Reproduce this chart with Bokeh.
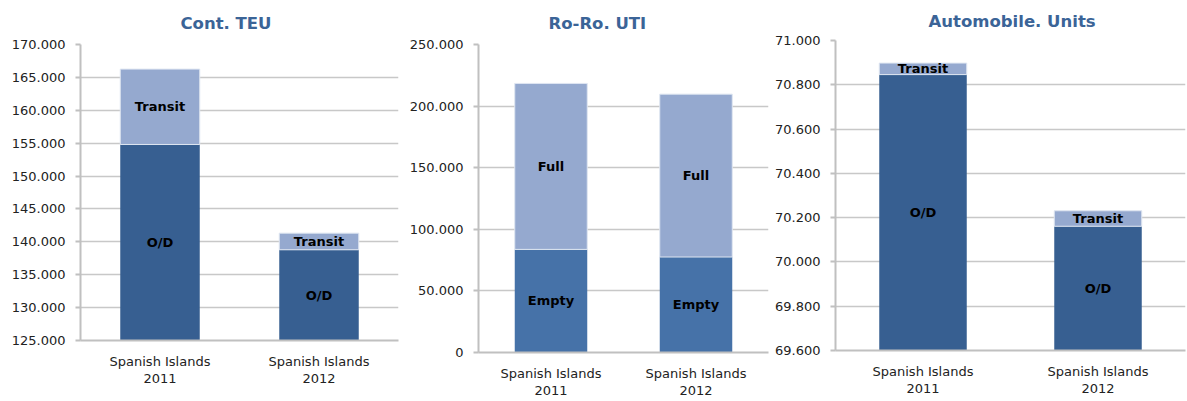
from bokeh.plotting import figure
from bokeh.layouts import row, column
from bokeh.models import FixedTicker, Title, ColumnDataSource, LabelSet
from bokeh.core.properties import value
from bokeh.embed import file_html
from bokeh.resources import INLINE

# ---------------- data ----------------
categories = ["Spanish Islands\n2011", "Spanish Islands\n2012"]

# Cont. TEU
teu_od = [154800, 138790]
teu_transit = [11460, 2530]
teu_ticks = [125000, 130000, 135000, 140000, 145000, 150000, 155000, 160000, 165000, 170000]

# Ro-Ro. UTI
uti_empty = [83700, 77500]
uti_full = [134700, 132200]
uti_ticks = [0, 50000, 100000, 150000, 200000, 250000]

# Automobile. Units
auto_od = [70846, 70161]
auto_transit = [52, 70]
auto_ticks = [69600, 69800, 70000, 70200, 70400, 70600, 70800, 71000]

C_DARK = "#375f91"
C_MID = "#4672a8"
C_LIGHT = "#95a9cf"
FONT = "DejaVu Sans"


def fmt(v):
    return "{:,}".format(v).replace(",", ".")


def make_chart(title, title_offset, title_standoff, width, height, mb, ticks, base_vals,
               top_vals, base_name, top_name, base_color, ymin):
    left, right, top, bottom = mb
    p = figure(x_range=categories, y_range=(ticks[0], ticks[-1]), width=width, height=height,
               output_backend="svg", toolbar_location=None,
               min_border_left=left, min_border_right=right,
               min_border_top=top, min_border_bottom=bottom)
    t = Title(text=title, align="left", offset=title_offset, text_font=FONT,
              text_font_size="16.5px", text_font_style="bold", text_color="#3b6497",
              standoff=title_standoff)
    p.add_layout(t, "above")
    p.outline_line_color = None
    p.background_fill_color = "white"
    p.border_fill_color = "white"

    bottoms = [ymin, ymin]
    tops1 = list(base_vals)
    tops2 = [a + b for a, b in zip(base_vals, top_vals)]
    src = ColumnDataSource(dict(x=categories, b0=bottoms, t1=tops1, t2=tops2,
                                m1=[(ymin + a) / 2 for a in tops1],
                                m2=[(a + b) / 2 for a, b in zip(tops1, tops2)],
                                l1=[base_name] * 2, l2=[top_name] * 2))
    p.vbar(x="x", bottom="b0", top="t1", width=0.5, source=src,
           fill_color=base_color, line_color=None)
    p.vbar(x="x", bottom="t1", top="t2", width=0.5, source=src,
           fill_color=C_LIGHT, line_color="#dfe6f1", line_width=1)

    for ycol, lcol in (("m1", "l1"), ("m2", "l2")):
        ls = LabelSet(x="x", y=ycol, text=lcol, source=src, text_align="center",
                      text_baseline="middle", text_font=value(FONT),
                      text_font_size="13px", text_font_style="bold", text_color="black")
        p.add_layout(ls)

    p.yaxis.ticker = FixedTicker(ticks=ticks)
    p.yaxis.major_label_overrides = {v: fmt(v) for v in ticks}
    p.yaxis.major_label_text_font = FONT
    p.yaxis.major_label_text_font_size = "13px"
    p.yaxis.major_label_text_color = "#222222"
    p.yaxis.major_label_standoff = 10
    p.yaxis.major_tick_out = 5
    p.yaxis.major_tick_in = 0
    p.yaxis.minor_tick_line_color = None
    p.yaxis.axis_line_color = "#c0c0c0"
    p.yaxis.axis_line_width = 2
    p.yaxis.major_tick_line_color = "#c0c0c0"
    p.yaxis.major_tick_line_width = 2

    p.xaxis.major_label_text_font = FONT
    p.xaxis.major_label_text_font_size = "13px"
    p.xaxis.major_label_text_color = "#222222"
    p.xaxis.major_label_text_line_height = 1.15
    p.xaxis.major_label_standoff = 7
    p.xaxis.major_tick_line_color = None
    p.xaxis.axis_line_color = "#c0c0c0"
    p.xaxis.axis_line_width = 2

    p.xgrid.grid_line_color = None
    p.ygrid.grid_line_color = "#c8c8c8"
    p.ygrid.grid_line_width = 1.5
    p.ygrid.ticker = FixedTicker(ticks=ticks)
    return p


H = 400
p1 = make_chart("Cont. TEU", 100, 23, 400, H, (80, 2, 43, 60), teu_ticks,
                teu_od, teu_transit, "O/D", "Transit", C_DARK, teu_ticks[0])
p2 = make_chart("Ro-Ro. UTI", 70, 23, 370, H, (78, 2, 44, 47), uti_ticks,
                uti_empty, uti_full, "Empty", "Full", C_MID, uti_ticks[0])
p3 = make_chart("Automobile. Units", 93, 19, 417, H, (65, 2, 39, 50), auto_ticks,
                auto_od, auto_transit, "O/D", "Transit", C_DARK, auto_ticks[0])

layout = row(column(p1), column(p2), column(p3), spacing=0)
open("out.html", "w").write(file_html(layout, INLINE))
